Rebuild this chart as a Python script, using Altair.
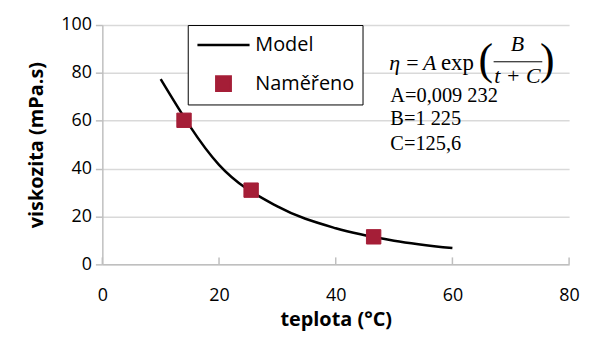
import altair as alt
import pandas as pd

# Model curve
model_t = [10, 20, 30, 40, 50, 60]
model_eta = [77.4, 41.6, 24.2, 15.1, 9.9, 6.8]

# Measured points
meas_t = [14, 25.5, 46.5]
meas_eta = [60.2, 31.0, 11.5]

series_names = ["Model", "Naměřeno"]
series_colors = ["#000000", "#a51e37"]

x_ticks = [0, 20, 40, 60, 80]
y_ticks = [0, 20, 40, 60, 80, 100]

eq_lines = ["A=0,009 232", "B=1 225", "C=125,6"]

model_df = pd.DataFrame({"t": model_t, "eta": model_eta, "series": "Model"})
meas_df = pd.DataFrame({"t": meas_t, "eta": meas_eta, "series": "Naměřeno"})

FONT = "Open Sans"
SERIF = "Liberation Serif"

xscale = alt.Scale(domain=[0, 80], nice=False)
yscale = alt.Scale(domain=[0, 100], nice=False)

x_enc = alt.X("t:Q", scale=xscale, axis=alt.Axis(
    values=x_ticks, title="teplota (°C)", grid=False, labelFlush=False,
    domainColor="#bfbfbf", domainWidth=1.5, ticks=False,
    labelPadding=22, labelFontSize=18, labelFont=FONT, labelColor="#000",
    titleFont=FONT, titleFontSize=20, titleFontWeight="bold", titleColor="#000",
    titlePadding=6))
y_enc = alt.Y("eta:Q", scale=yscale, axis=alt.Axis(
    values=y_ticks, title="viskozita (mPa.s)", grid=True, labelFlush=False,
    gridColor="#d9d9d9", gridWidth=1.5,
    domainColor="#bfbfbf", domainWidth=1.5, tickColor="#bfbfbf", tickWidth=1.5,
    tickSize=7, labelPadding=4, labelFontSize=18, labelFont=FONT, labelColor="#000",
    titleFont=FONT, titleFontSize=20, titleFontWeight="bold", titleColor="#000",
    titlePadding=14))

stroke_scale = alt.Scale(domain=series_names, range=series_colors)
legend = alt.Legend(
    title=None, orient="none", legendX=86, legendY=0,
    strokeColor="#000", fillColor="white", padding=8,
    labelFont=FONT, labelFontSize=20, labelColor="#000",
    symbolOffset=16, labelOffset=20,
    symbolStrokeWidth=2.5, rowPadding=16)

line = alt.Chart(model_df).mark_line(strokeWidth=2.5, interpolate="monotone").encode(
    x=x_enc, y=y_enc,
    stroke=alt.Stroke("series:N", scale=stroke_scale, legend=legend))

points = alt.Chart(meas_df).mark_point(filled=True, opacity=1, strokeWidth=1).encode(
    x=alt.X("t:Q", scale=xscale), y=alt.Y("eta:Q", scale=yscale),
    stroke=alt.Stroke("series:N", scale=stroke_scale, legend=legend),
    fill=alt.Fill("series:N", scale=alt.Scale(domain=series_names, range=["#ffffff00", series_colors[1]]), legend=legend),
    shape=alt.Shape("series:N", scale=alt.Scale(domain=series_names, range=["M-2.5,0H2.5", "square"]), legend=legend),
    size=alt.Size("series:N", scale=alt.Scale(domain=series_names, range=[441, 210]), legend=legend),
)

# inward x ticks
xtick_df = pd.DataFrame({"t": x_ticks})
xticks = alt.Chart(xtick_df).mark_rule(color="#bfbfbf", strokeWidth=1.5).encode(
    x=alt.X("t:Q", scale=xscale), y=alt.value(234), y2=alt.value(241))


def label(txt, x, y, size=21, style="normal", align="left"):
    return alt.Chart(pd.DataFrame({"s": [txt]})).mark_text(
        font=SERIF, fontSize=size, fontStyle=style, align=align,
        baseline="middle", color="#000").encode(
        x=alt.value(x), y=alt.value(y), text="s:N")

eq_rows = [label(s, 290, yy, size=20.5) for s, yy in zip(eq_lines, [72, 95, 120])]

eq_parts = [
    label("η", 289, 38, size=22, style="italic"),
    label("=", 306, 38, size=22),
    label("A", 323, 38, size=22, style="italic"),
    label("exp", 341, 38, size=23),
    label("(", 386, 36, size=44, align="center"),
    label("B", 418, 19, size=22, style="italic", align="center"),
    label("t + C", 418, 51, size=22, style="italic", align="center"),
    label(")", 448, 36, size=44, align="center"),
]
frac = alt.Chart(pd.DataFrame({"a": [0]})).mark_rule(color="#000", strokeWidth=1).encode(
    x=alt.value(394), x2=alt.value(443), y=alt.value(37))

chart = alt.layer(line, points, xticks, *eq_rows, *eq_parts, frac).properties(
    width=470, height=241,
    autosize=alt.AutoSizeParams(type="none"),
    padding={"left": 95, "top": 16, "right": 14, "bottom": 71},
).configure_view(stroke=None)

chart.save("out.html", embed_options={"renderer": "svg", "actions": False})
